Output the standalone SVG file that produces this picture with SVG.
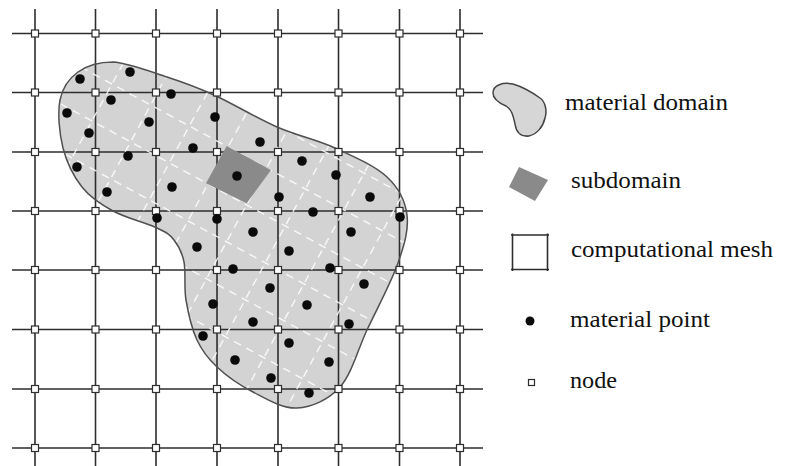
<svg xmlns="http://www.w3.org/2000/svg" xmlns:xlink="http://www.w3.org/1999/xlink" width="787" height="466" viewBox="0 0 787 466">
<style>
.grid{stroke:#2e2e2e;stroke-width:1.6;fill:none}
.dash{stroke:#ffffff;stroke-width:1.4;stroke-dasharray:8 6;fill:none;opacity:0.85}
.dom{fill:#d3d3d3}
.domline{fill:none;stroke:#505050;stroke-width:1.5}
.sub{fill:#8a8a8a}
.pt{fill:#0a0a0a}
text{font-family:'Liberation Serif','Times New Roman',Tinos,'Noto Serif','DejaVu Serif',serif;font-size:24px;fill:#111}
</style>
<defs>
<path id="domainPath" d="M113,62 C127.8,62.8 150.2,71.5 167,77 C183.8,82.5 195.7,86.7 214,95 C232.3,103.3 256.8,118.2 277,127 C297.2,135.8 316.7,139.7 335,148 C353.3,156.3 375,165.8 387,177 C399,188.2 405.2,200.7 407,215 C408.8,229.3 404.7,243.8 398,263 C391.3,282.2 376.7,309.3 367,330 C357.3,350.7 351.7,374 340,387 C328.3,400 311.5,407.2 297,408 C282.5,408.8 266.3,398.8 253,392 C239.7,385.2 226.3,375.7 217,367 C207.7,358.3 202.2,351.2 197,340 C191.8,328.8 188.2,313 186,300 C183.8,287 186,272 184,262 C182,252 178.5,245.7 174,240 C169.5,234.3 167.2,232.8 157,228 C146.8,223.2 125.5,217.8 113,211 C100.5,204.2 90.3,197.5 82,187 C73.7,176.5 66.7,162.5 63,148 C59.3,133.5 57.5,112.7 60,100 C62.5,87.3 69.2,78.3 78,72 C86.8,65.7 98.2,62 113,62 Z"/>
<clipPath id="domClip"><use xlink:href="#domainPath"/></clipPath>
<rect id="nd" x="-3.5" y="-3.5" width="7" height="7" fill="#ffffff" stroke="#2e2e2e" stroke-width="1.2"/>
</defs>
<rect width="787" height="466" fill="#ffffff"/>

<g id="material-domain">
<use xlink:href="#domainPath" class="dom"/>
</g>

<g id="mesh-lines">
<path class="grid" d="M35,9V466 M95.5,9V466 M156,9V466 M217,9V466 M278,9V466 M338.5,9V466 M399.5,9V466 M460,9V466 M12,33.5H483 M12,92.5H483 M12,152H483 M12,211H483 M12,270H483 M12,329.5H483 M12,389H483 M12,448H483"/>
</g>

<g id="subdomain-grid" clip-path="url(#domClip)">
<g transform="translate(228,147) rotate(28.5)">
<path class="dash" d="M-176,-80V230 M-132,-80V230 M-88,-80V230 M-44,-80V230 M0,-80V230 M44,-80V230 M88,-80V230 M132,-80V230 M176,-80V230 M220,-80V230 M264,-80V230 M-210,-42H310 M-210,0H310 M-210,42H310 M-210,84H310 M-210,126H310 M-210,168H310"/>
</g>
</g>

<g id="domain-outline">
<use xlink:href="#domainPath" class="domline"/>
</g>

<g id="subdomain">
<polygon class="sub" points="226.7,146 271,170 246.7,203.3 206,183.3"/>
</g>

<g id="nodes">
<use xlink:href="#nd" x="35" y="33.5"/><use xlink:href="#nd" x="95.5" y="33.5"/><use xlink:href="#nd" x="156" y="33.5"/><use xlink:href="#nd" x="217" y="33.5"/><use xlink:href="#nd" x="278" y="33.5"/><use xlink:href="#nd" x="338.5" y="33.5"/><use xlink:href="#nd" x="399.5" y="33.5"/><use xlink:href="#nd" x="460" y="33.5"/>
<use xlink:href="#nd" x="35" y="92.5"/><use xlink:href="#nd" x="95.5" y="92.5"/><use xlink:href="#nd" x="156" y="92.5"/><use xlink:href="#nd" x="217" y="92.5"/><use xlink:href="#nd" x="278" y="92.5"/><use xlink:href="#nd" x="338.5" y="92.5"/><use xlink:href="#nd" x="399.5" y="92.5"/><use xlink:href="#nd" x="460" y="92.5"/>
<use xlink:href="#nd" x="35" y="152"/><use xlink:href="#nd" x="95.5" y="152"/><use xlink:href="#nd" x="156" y="152"/><use xlink:href="#nd" x="217" y="152"/><use xlink:href="#nd" x="278" y="152"/><use xlink:href="#nd" x="338.5" y="152"/><use xlink:href="#nd" x="399.5" y="152"/><use xlink:href="#nd" x="460" y="152"/>
<use xlink:href="#nd" x="35" y="211"/><use xlink:href="#nd" x="95.5" y="211"/><use xlink:href="#nd" x="156" y="211"/><use xlink:href="#nd" x="217" y="211"/><use xlink:href="#nd" x="278" y="211"/><use xlink:href="#nd" x="338.5" y="211"/><use xlink:href="#nd" x="399.5" y="211"/><use xlink:href="#nd" x="460" y="211"/>
<use xlink:href="#nd" x="35" y="270"/><use xlink:href="#nd" x="95.5" y="270"/><use xlink:href="#nd" x="156" y="270"/><use xlink:href="#nd" x="217" y="270"/><use xlink:href="#nd" x="278" y="270"/><use xlink:href="#nd" x="338.5" y="270"/><use xlink:href="#nd" x="399.5" y="270"/><use xlink:href="#nd" x="460" y="270"/>
<use xlink:href="#nd" x="35" y="329.5"/><use xlink:href="#nd" x="95.5" y="329.5"/><use xlink:href="#nd" x="156" y="329.5"/><use xlink:href="#nd" x="217" y="329.5"/><use xlink:href="#nd" x="278" y="329.5"/><use xlink:href="#nd" x="338.5" y="329.5"/><use xlink:href="#nd" x="399.5" y="329.5"/><use xlink:href="#nd" x="460" y="329.5"/>
<use xlink:href="#nd" x="35" y="389"/><use xlink:href="#nd" x="95.5" y="389"/><use xlink:href="#nd" x="156" y="389"/><use xlink:href="#nd" x="217" y="389"/><use xlink:href="#nd" x="278" y="389"/><use xlink:href="#nd" x="338.5" y="389"/><use xlink:href="#nd" x="399.5" y="389"/><use xlink:href="#nd" x="460" y="389"/>
<use xlink:href="#nd" x="35" y="448"/><use xlink:href="#nd" x="95.5" y="448"/><use xlink:href="#nd" x="156" y="448"/><use xlink:href="#nd" x="217" y="448"/><use xlink:href="#nd" x="278" y="448"/><use xlink:href="#nd" x="338.5" y="448"/><use xlink:href="#nd" x="399.5" y="448"/><use xlink:href="#nd" x="460" y="448"/>
</g>

<g id="material-points" class="pt">
<circle cx="80" cy="79" r="4.8"/><circle cx="130" cy="72" r="4.8"/><circle cx="67" cy="113" r="4.8"/><circle cx="111" cy="100" r="4.8"/><circle cx="171" cy="94" r="4.8"/>
<circle cx="89" cy="133" r="4.8"/><circle cx="149" cy="122" r="4.8"/><circle cx="215" cy="117" r="4.8"/><circle cx="77" cy="167" r="4.8"/><circle cx="128" cy="156" r="4.8"/>
<circle cx="193" cy="148" r="4.8"/><circle cx="260" cy="142" r="4.8"/><circle cx="107" cy="192" r="4.8"/><circle cx="172" cy="187" r="4.8"/><circle cx="237" cy="176" r="4.8"/>
<circle cx="302" cy="161" r="4.8"/><circle cx="336" cy="175" r="4.8"/><circle cx="279" cy="197" r="4.8"/><circle cx="370" cy="197" r="4.8"/><circle cx="157" cy="218" r="4.8"/>
<circle cx="217" cy="219" r="4.8"/><circle cx="313" cy="212" r="4.8"/><circle cx="400" cy="217" r="4.8"/><circle cx="253" cy="232" r="4.8"/><circle cx="351" cy="232" r="4.8"/>
<circle cx="197" cy="247" r="4.8"/><circle cx="289" cy="251" r="4.8"/><circle cx="233" cy="269" r="4.8"/><circle cx="330" cy="268" r="4.8"/><circle cx="364" cy="284" r="4.8"/>
<circle cx="270" cy="288" r="4.8"/><circle cx="213" cy="304" r="4.8"/><circle cx="307" cy="305" r="4.8"/><circle cx="253" cy="322" r="4.8"/><circle cx="349" cy="324" r="4.8"/>
<circle cx="203" cy="336" r="4.8"/><circle cx="289" cy="343" r="4.8"/><circle cx="235" cy="360" r="4.8"/><circle cx="329" cy="362" r="4.8"/><circle cx="271" cy="378" r="4.8"/>
<circle cx="309" cy="393" r="4.8"/>
</g>

<g id="legend-material-domain">
<path d="M493,93 C493,85 503,82 513,84 C523,87 533,93 540,98 C546,102 547,112 545,118 C543,127 537,134 529,136 C520,137 516,131 515,124 C513,115 512,110 506,106 C499,103 493,99 493,93 Z" fill="#d6d6d6" stroke="#444" stroke-width="1.5"/>
<text x="565" y="110" textLength="163" lengthAdjust="spacingAndGlyphs">material domain</text>
</g>
<g id="legend-subdomain">
<polygon class="sub" points="519,167 548,180 535,201 509,187"/>
<text x="571" y="188" textLength="110" lengthAdjust="spacingAndGlyphs">subdomain</text>
</g>
<g id="legend-mesh">
<path class="grid" d="M511,235H549 M511,269.5H549 M512.5,233.5V271 M547.5,233.5V271"/>
<text x="571" y="257" textLength="202" lengthAdjust="spacingAndGlyphs">computational mesh</text>
</g>
<g id="legend-point">
<circle class="pt" cx="530" cy="321" r="4.5"/>
<text x="570" y="327" textLength="140" lengthAdjust="spacingAndGlyphs">material point</text>
</g>
<g id="legend-node">
<rect x="528.5" y="379.5" width="6" height="6" fill="#fff" stroke="#2e2e2e" stroke-width="1.2"/>
<text x="570" y="388" textLength="47" lengthAdjust="spacingAndGlyphs">node</text>
</g>
</svg>
